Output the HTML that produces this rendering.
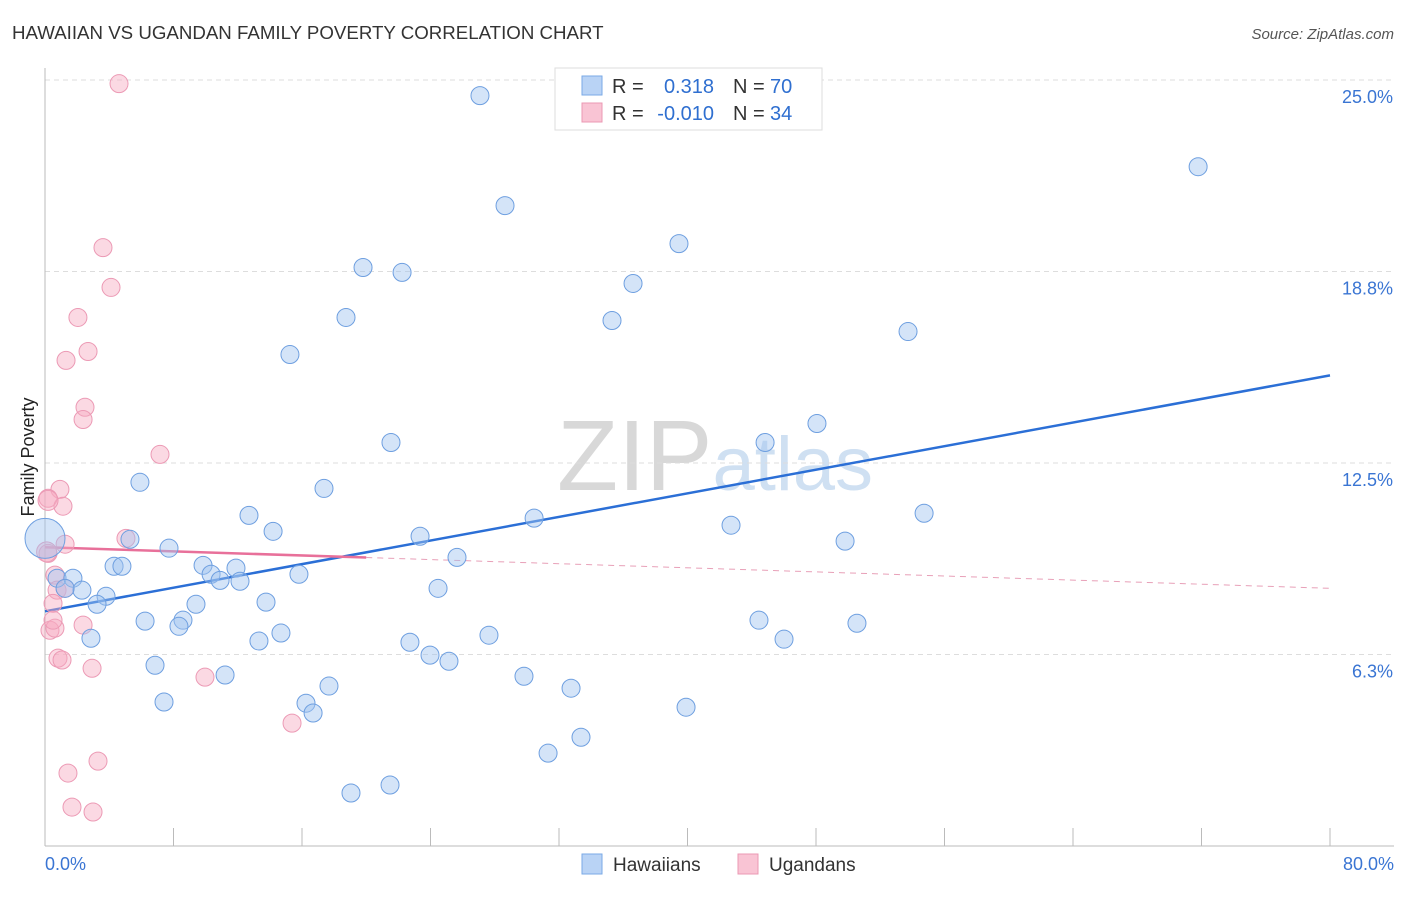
<!DOCTYPE html>
<html><head><meta charset="utf-8"><style>
body{margin:0;background:#fff;font-family:"Liberation Sans",sans-serif;}
svg text{font-family:"Liberation Sans",sans-serif;}
</style></head><body>
<svg id="chart" width="1406" height="892" xmlns="http://www.w3.org/2000/svg">
<text x="12" y="39" font-size="18.7" fill="#333">HAWAIIAN VS UGANDAN FAMILY POVERTY CORRELATION CHART</text>
<text x="1394" y="39" font-size="15" fill="#555" text-anchor="end" font-style="italic">Source: ZipAtlas.com</text>
<text x="715" y="490" font-size="100" text-anchor="middle" fill="#ddd" font-family="Liberation Serif"><tspan fill="#d8d8d8">ZIP</tspan><tspan font-family="Liberation Sans" font-size="76" fill="#cfe0f2">atlas</tspan></text>
<text transform="translate(34,457) rotate(-90)" font-size="18" fill="#222" text-anchor="middle">Family Poverty</text>
<g id="grid"></g><g id="axes"></g><g id="trend"></g><g id="pts"></g>
<g>
<rect x="555" y="68" width="267" height="62" fill="#fff" stroke="#ddd"/>
<rect x="582" y="76" width="20" height="19" fill="#b9d3f5" stroke="#7aaae6"/>
<rect x="582" y="103" width="20" height="19" fill="#f9c4d4" stroke="#eb98b3"/>
<text x="612" y="93" font-size="20" fill="#333">R =</text><text x="714" y="93" font-size="20" fill="#2f6fd0" text-anchor="end">0.318</text>
<text x="733" y="93" font-size="20" fill="#333">N =</text><text x="770" y="93" font-size="20" fill="#2f6fd0">70</text>
<text x="612" y="120" font-size="20" fill="#333">R =</text><text x="714" y="120" font-size="20" fill="#2f6fd0" text-anchor="end">-0.010</text>
<text x="733" y="120" font-size="20" fill="#333">N =</text><text x="770" y="120" font-size="20" fill="#2f6fd0">34</text>
</g>
<g>
<rect x="582" y="854" width="20" height="20" fill="#b9d3f5" stroke="#7aaae6"/>
<text x="613" y="871" font-size="19" fill="#333">Hawaiians</text>
<rect x="738" y="854" width="20" height="20" fill="#f9c4d4" stroke="#eb98b3"/>
<text x="769" y="871" font-size="19" fill="#333">Ugandans</text>
</g>
</svg>
<script>
const hawX=[27.08,71.79,28.64,39.47,19.80,22.23,36.61,18.74,35.30,53.73,15.25,48.06,44.83,21.54,5.91,17.37,54.73,12.70,30.45,42.71,14.20,23.35,5.29,49.81,7.72,25.65,0,9.84,4.30,4.79,11.89,15.81,10.34,10.90,12.14,0.75,1.74,24.47,2.30,1.25,3.80,3.24,9.40,13.76,8.59,6.23,44.45,50.55,8.34,14.69,27.64,2.86,13.32,22.72,46.01,23.97,25.15,6.85,11.21,29.82,17.68,32.75,7.41,16.25,39.91,16.69,33.37,31.32,21.48,19.05];
const hawY=[24.49,22.17,20.90,19.66,18.88,18.72,18.36,17.25,17.15,16.79,16.04,13.79,13.17,13.17,11.87,11.67,10.86,10.79,10.70,10.47,10.27,10.11,10.01,9.95,9.72,9.42,10.04,9.16,9.13,9.13,9.07,8.87,8.87,8.67,8.64,8.74,8.74,8.41,8.35,8.41,8.15,7.89,7.89,7.96,7.37,7.34,7.37,7.27,7.17,6.95,6.88,6.78,6.69,6.65,6.75,6.23,6.03,5.90,5.58,5.54,5.22,5.15,4.70,4.66,4.53,4.34,3.55,3.03,1.99,1.73];
const ugaX=[4.61,3.61,4.11,2.05,2.68,1.31,2.49,2.37,7.16,0.93,0.19,1.12,5.04,1.25,0.19,0.62,0.75,1.25,0.50,0.31,0.62,2.37,0.50,0.81,1.06,2.93,9.96,15.38,1.43,3.30,1.68,2.99,0.19,0.10];
const ugaY=[24.88,19.53,18.23,17.25,16.14,15.85,14.32,13.92,12.78,11.64,11.35,11.09,10.04,9.85,9.55,8.84,8.35,8.41,7.92,7.04,7.11,7.21,7.37,6.13,6.07,5.80,5.51,4.01,2.38,2.77,1.27,1.11,11.28,9.60];
const hawSize=hawX.map((v,i)=>i===26?20:9);
const ugaSize=ugaX.map((v,i)=>(i===32||i===33)?10:9);
const hawTrend=[7.66,15.36];
const ugaTrend=[9.75,8.41];
const ugaSolidEnd=20;
const yTicks=[25,18.75,12.5,6.25];
const yTickLabels=["25.0%","18.8%","12.5%","6.3%"];
const xTicks=[0,8,16,24,32,40,48,56,64,72,80];

const X0=45,X1=1330,Y0=846,Y25=80;
const sx=v=>X0+v/80*(X1-X0);
const sy=v=>Y0-v/25*(Y0-Y25);
const NS="http://www.w3.org/2000/svg";
function mk(tag,parent,attrs){const e=document.createElementNS(NS,tag);for(const k in attrs)e.setAttribute(k,attrs[k]);parent.appendChild(e);return e;}
const grid=document.getElementById('grid'),axes=document.getElementById('axes'),trend=document.getElementById('trend'),pts=document.getElementById('pts');
yTicks.forEach((t,i)=>{
 const l=mk('line',grid,{x1:X0,x2:1394,y1:sy(t),y2:sy(t),stroke:'#ddd','stroke-dasharray':'5,4'});
 
 
 const tx=mk('text',axes,{x:1393,y:sy(t)+23,'font-size':18,fill:'#3a75d3','text-anchor':'end'});
 tx.textContent=yTickLabels[i];
 
 
});
const xa=mk('line',axes,{x1:X0,x2:1394,y1:Y0,y2:Y0,stroke:'#bbb'});


const ya=mk('line',axes,{x1:X0,x2:X0,y1:68,y2:Y0,stroke:'#bbb'});


xTicks.forEach(t=>{
 const l=mk('line',axes,{x1:sx(t),x2:sx(t),y1:Y0,y2:828,stroke:'#bbb'});
 
 
});
const xl0=mk('text',axes,{x:45,y:870,'font-size':18,fill:'#3a75d3'});xl0.textContent=xTicks[0].toFixed(1)+'%';


const xl1=mk('text',axes,{x:1394,y:870,'font-size':18,fill:'#3a75d3','text-anchor':'end'});xl1.textContent=xTicks[xTicks.length-1].toFixed(1)+'%';


ugaX.forEach((v,i)=>{
 const c=mk('circle',pts,{cx:sx(v),cy:sy(ugaY[i]),r:ugaSize[i],fill:'rgba(246,170,194,0.45)',stroke:'#ec9ab5','stroke-width':1});
 
 
});
hawX.forEach((v,i)=>{
 const c=mk('circle',pts,{cx:sx(v),cy:sy(hawY[i]),r:hawSize[i],fill:'rgba(160,195,240,0.45)',stroke:'#6e9fe0','stroke-width':1});
 
 
});
const ht=mk('line',trend,{x1:sx(0),y1:sy(hawTrend[0]),x2:sx(80),y2:sy(hawTrend[1]),stroke:'#2b6fd6','stroke-width':2.5});


const uy=x=>ugaTrend[0]+(ugaTrend[1]-ugaTrend[0])*x/80;
const ut=mk('line',trend,{x1:sx(0),y1:sy(uy(0)),x2:sx(ugaSolidEnd),y2:sy(uy(ugaSolidEnd)),stroke:'#e8709a','stroke-width':2.5});


const ud=mk('line',trend,{x1:sx(ugaSolidEnd),y1:sy(uy(ugaSolidEnd)),x2:sx(80),y2:sy(uy(80)),stroke:'#e8a0b8','stroke-width':1,'stroke-dasharray':'6,5'});


</script>
</body></html>
